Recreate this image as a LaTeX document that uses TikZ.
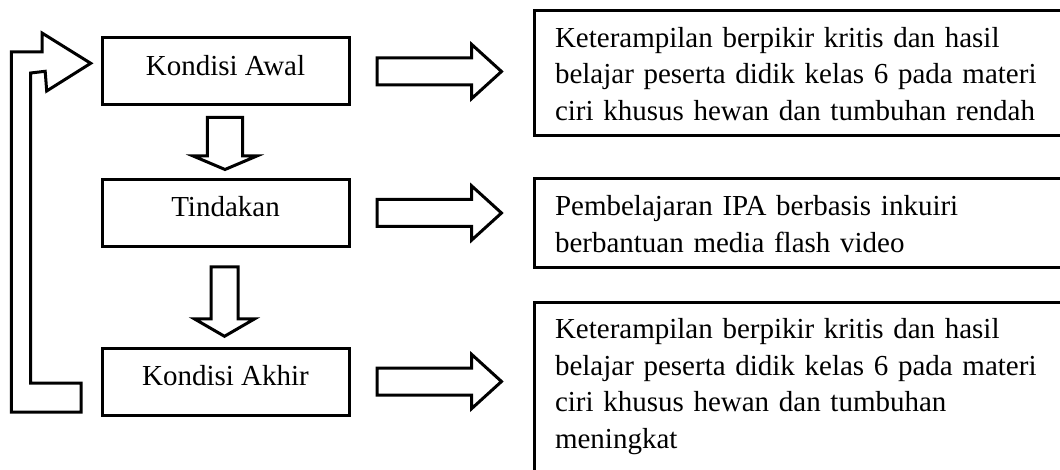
\documentclass[tikz,border=0pt]{standalone}
\usepackage{fontspec}
\setmainfont{Liberation Serif}
\usetikzlibrary{positioning}

\newcommand{\hurufket}{\fontsize{29pt}{36.5pt}\selectfont\setlength{\spaceskip}{6.4pt}}

\tikzset{
  kotak/.style={draw, line width=3pt, outer sep=0pt, inner sep=0pt,
    minimum width=247pt, minimum height=67pt,
    text height=20pt, text depth=12pt,
    font=\fontsize{29pt}{36.5pt}\selectfont},
  keterangan/.style={draw, line width=3pt, outer sep=0pt, anchor=north west,
    align=left, text width=540pt, inner xsep=21pt, inner ysep=15pt,
    text height=21.6pt, font=\hurufket},
  panah/.style={draw, line width=3pt}
}

\begin{document}
\begin{tikzpicture}[x=1pt, y=-1pt]
        \useasboundingbox (0,0) rectangle (1060,470);
        \clip (0,0) rectangle (1060,470);

        % Define the nodes
        \node[kotak] (awal) at (225.5,71.5) {Kondisi Awal};
        \node[kotak, on grid, below=141.5pt of awal] (tindakan) {Tindakan};
        \node[kotak, on grid, below=168.5pt of tindakan] (akhir) {Kondisi Akhir};

        \node[keterangan] (hasil_awal) at (534,10.7)
          {Keterampilan berpikir kritis dan hasil\\
           belajar peserta didik kelas 6 pada materi\\
           ciri khusus hewan dan tumbuhan rendah};
        \node[keterangan] (hasil_tindakan) at (534,179)
          {Pembelajaran IPA berbasis inkuiri\\
           berbantuan media flash video};
        \node[keterangan, text depth=125pt] (hasil_akhir) at (534,302.3)
          {Keterampilan berpikir kritis dan hasil\\
           belajar peserta didik kelas 6 pada materi\\
           ciri khusus hewan dan tumbuhan\\
           meningkat};

        % Define the block arrows
        \foreach \n in {awal, tindakan, akhir}
          \draw[panah] ([xshift=28pt]\n.east) ++(0,-13.5) -- ++(94.5,0)
            -- ++(0,-13.75) -- ++(30,27.25) -- ++(-30,27.25)
            -- ++(0,-13.75) -- ++(-94.5,0) -- cycle;

        \draw[panah] ([xshift=-0.5pt, yshift=-12.3pt]awal.south) ++(-17.7,0)
          -- ++(0,38.7) -- ++(-14.15,0) -- ++(31.85,13.5) -- ++(31.85,-13.5)
          -- ++(-14.15,0) -- ++(0,-38.7) -- cycle;
        \draw[panah] ([xshift=-1pt, yshift=-20.5pt]tindakan.south) ++(-13.5,0)
          -- ++(0,51.8) -- ++(-16.7,0) -- ++(30.2,17.5) -- ++(30.2,-17.5)
          -- ++(-16.7,0) -- ++(0,-51.8) -- cycle;

        % Feedback arrow
        \draw[panah]
        (81,412) -- (11.3,412) -- (11.3,52) -- (42,52) -- (42,33)
        -- (90.7,63.3) -- (46.7,91) -- (45.2,71.3) -- (30.7,73)
        -- (30.7,383) -- (81,383) -- cycle;
    \end{tikzpicture}
\end{document}
